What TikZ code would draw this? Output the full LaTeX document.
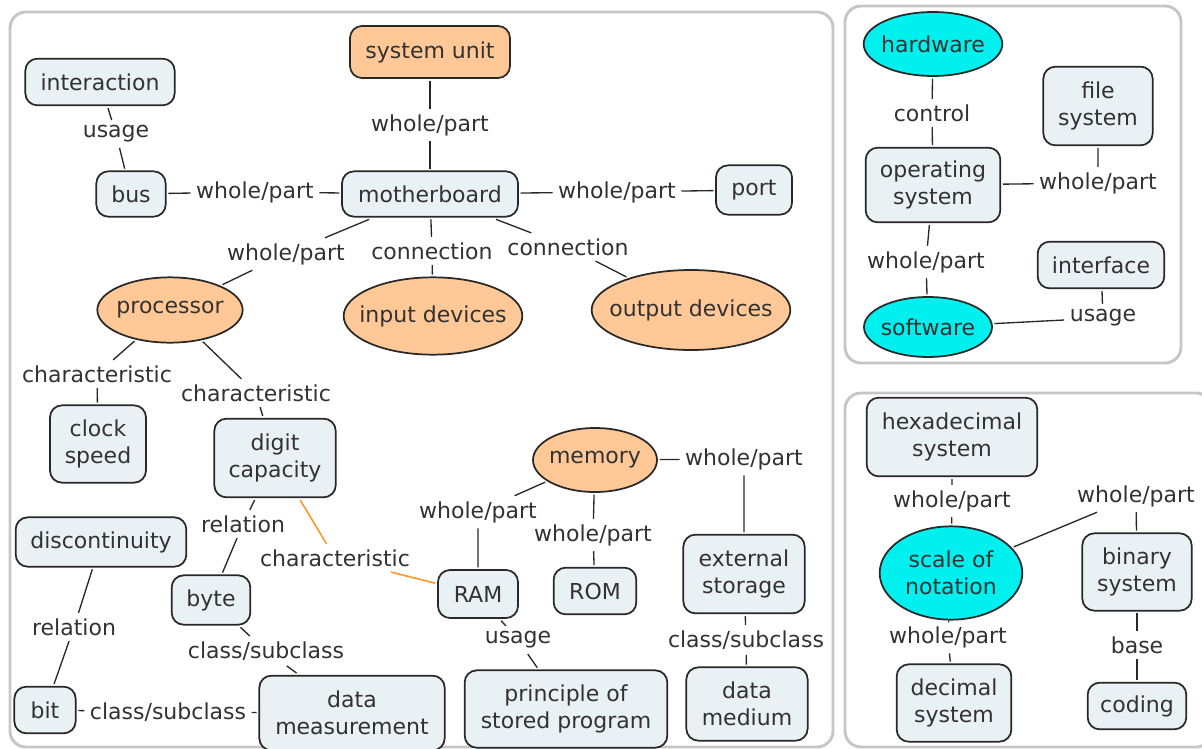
\documentclass[tikz,border=0pt]{standalone}
\usepackage{fontspec}
\setmainfont{DejaVu Sans}
\usetikzlibrary{shapes.geometric}

\definecolor{boxfill}{RGB}{234,241,244}
\definecolor{peach}{RGB}{255,200,150}
\definecolor{aqua}{RGB}{0,240,240}
\definecolor{edge}{RGB}{40,40,40}
\definecolor{ink}{RGB}{50,50,50}
\definecolor{frame}{RGB}{198,198,198}
\definecolor{hotline}{RGB}{255,150,40}

\begin{document}
\begin{tikzpicture}[
    x=0.75pt, y=-0.75pt,
    font=\fontsize{16.5}{20}\selectfont,
    concept/.style={draw=edge, line width=1.3pt, fill=boxfill, rounded corners=9pt,
        align=center, text=ink, inner sep=2pt, outer sep=2pt},
    main/.style={concept, fill=peach},
    oval/.style={ellipse, draw=edge, line width=1.3pt, fill=peach, align=center,
        text=ink, inner ysep=1pt, inner xsep=-20pt, outer sep=2pt},
    sys/.style={oval, fill=aqua},
    phrase/.style={text=ink, inner sep=4pt},
    link/.style={draw=edge, line width=1pt},
    hot/.style={draw=hotline, line width=1.2pt},
    panel/.style={draw=frame, line width=2.2pt, rounded corners=12pt}
]

\useasboundingbox (0,0) rectangle (1202,749);

% rámce
\draw[panel] (10,12) rectangle (833,747);
\draw[panel] (845,6) rectangle (1181,363);
\draw[panel] (845,393) rectangle (1212,747);

% počítač
\node[main, minimum width=120pt, minimum height=39pt] (sysunit) at (430,52) {system unit};
\node[concept, minimum width=112pt, minimum height=35pt] (interact) at (100,82) {interaction};
\node[concept, minimum width=52pt, minimum height=34pt] (bus) at (131,194) {bus};
\node[concept, minimum width=132pt, minimum height=34pt] (mboard) at (430,194) {motherboard};
\node[concept, minimum width=57pt, minimum height=37pt] (port) at (754,190) {port};
\node[oval, minimum width=109pt, minimum height=49pt] (cpu) at (170,310) {processor};
\node[oval, minimum width=134pt, minimum height=58pt] (input) at (433,316) {input devices};
\node[oval, minimum width=149pt, minimum height=60pt] (output) at (691,310) {output devices};
\node[concept, minimum width=72pt, minimum height=58pt] (clock) at (98,444) {clock\\speed};
\node[concept, minimum width=91pt, minimum height=59pt] (digit) at (275,458) {digit\\capacity};
\node[concept, minimum width=128pt, minimum height=37pt] (discont) at (101,542) {discontinuity};
\node[concept, minimum width=59pt, minimum height=37pt] (byte) at (211,600) {byte};
\node[concept, minimum width=46pt, minimum height=35pt] (bit) at (45,710) {bit};
\node[concept, minimum width=139pt, minimum height=56pt] (measure) at (352,713) {data\\measurement};
\node[oval, minimum width=93pt, minimum height=48pt] (memory) at (595,460) {memory};
\node[concept, minimum width=60pt, minimum height=36pt] (ram) at (478,594) {RAM};
\node[concept, minimum width=62pt, minimum height=35pt] (rom) at (595,591) {ROM};
\node[concept, minimum width=91pt, minimum height=59pt] (extern) at (744,574) {external\\storage};
\node[concept, minimum width=152pt, minimum height=58pt] (program) at (566,709) {principle of\\stored program};
\node[concept, minimum width=91pt, minimum height=55pt] (medium) at (747,704) {data\\medium};

% software
\node[sys, minimum width=104pt, minimum height=48pt] (hw) at (933,44) {hardware};
\node[concept, minimum width=101pt, minimum height=56pt] (opsys) at (933,185) {operating\\system};
\node[concept, minimum width=82pt, minimum height=59pt] (files) at (1098,106) {file\\system};
\node[sys, minimum width=96pt, minimum height=45pt] (sw) at (928,327) {software};
\node[concept, minimum width=95pt, minimum height=35pt] (iface) at (1101,265) {interface};

% číselné sústavy
\node[concept, minimum width=128pt, minimum height=59pt] (hex) at (952,437) {hexadecimal\\system};
\node[sys, minimum width=107pt, minimum height=70pt] (scale) at (951,573) {scale of\\notation};
\node[concept, minimum width=82pt, minimum height=58pt] (binary) at (1137,572) {binary\\system};
\node[concept, minimum width=74pt, minimum height=35pt] (coding) at (1137,706) {coding};
\node[concept, minimum width=86pt, minimum height=58pt] (decimal) at (954,703) {decimal\\system};

% spojovacie frázy
\node[phrase] (p1) at (430,125) {whole/part};
\node[phrase] (p2) at (116,134) {usage};
\node[phrase] (p3) at (255,192) {whole/part};
\node[phrase] (p4) at (617,192) {whole/part};
\node[phrase] (p5) at (286,254) {whole/part};
\node[phrase] (p6) at (432,251) {connection};
\node[phrase] (p7) at (568,247) {connection};
\node[phrase] (p8) at (97,374) {characteristic};
\node[phrase] (p9) at (256,393) {characteristic};
\node[phrase] (p10) at (243,524) {relation};
\node[phrase] (p11) at (335,558) {characteristic};
\node[phrase] (p12) at (74,627) {relation};
\node[phrase] (p13) at (266,651) {class/subclass};
\node[phrase] (p14) at (168,712) {class/subclass};
\node[phrase] (p15) at (478,512) {whole/part};
\node[phrase] (p16) at (593,535) {whole/part};
\node[phrase] (p17) at (744,459) {whole/part};
\node[phrase] (p18) at (518,640) {usage};
\node[phrase] (p19) at (746,640) {class/subclass};
\node[phrase] (p20) at (932,113) {control};
\node[phrase] (p21) at (1098,183) {whole/part};
\node[phrase] (p22) at (926,262) {whole/part};
\node[phrase] (p23) at (1103,318) {usage};
\node[phrase] (p24) at (952,501) {whole/part};
\node[phrase] (p25) at (1136,496) {whole/part};
\node[phrase] (p26) at (1137,645) {base};
\node[phrase] (p27) at (948,637) {whole/part};

% spojenia
\draw[link] (sysunit) -- (p1) (p1) -- (mboard);
\draw[link] (interact) -- (p2) (p2) -- (bus);
\draw[link] (bus) -- (p3) (p3) -- (mboard);
\draw[link] (mboard) -- (p4) (p4) -- (port);
\draw[link] (mboard) -- (p5) (p5) -- (cpu);
\draw[link] (mboard) -- (p6) (p6) -- (input);
\draw[link] (mboard) -- (p7) (p7) -- (output);
\draw[link] (cpu) -- (p8) (p8) -- (clock);
\draw[link] (cpu) -- (p9) (p9) -- (digit);
\draw[link] (digit) -- (p10) (p10) -- (byte);
\draw[hot] (digit) -- (p11) (p11) -- (ram);
\draw[link] (discont) -- (p12) (p12) -- (bit);
\draw[link] (byte) -- (p13) (p13) -- (measure);
\draw[link] (bit) -- (p14) (p14) -- (measure);
\draw[link] (memory) -- (p15) (p15) -- (ram);
\draw[link] (memory) -- (p16) (p16) -- (rom);
\draw[link] (memory) -- (p17) (p17) -- (extern);
\draw[link] (ram) -- (p18) (p18) -- (program);
\draw[link] (extern) -- (p19) (p19) -- (medium);
\draw[link] (hw) -- (p20) (p20) -- (opsys);
\draw[link] (opsys) -- (p21) (p21) -- (files);
\draw[link] (opsys) -- (p22) (p22) -- (sw);
\draw[link] (sw) -- (p23) (p23) -- (iface);
\draw[link] (hex) -- (p24) (p24) -- (scale);
\draw[link] (scale) -- (p25) (p25) -- (binary);
\draw[link] (binary) -- (p26) (p26) -- (coding);
\draw[link] (scale) -- (p27) (p27) -- (decimal);

\end{tikzpicture}
\end{document}
